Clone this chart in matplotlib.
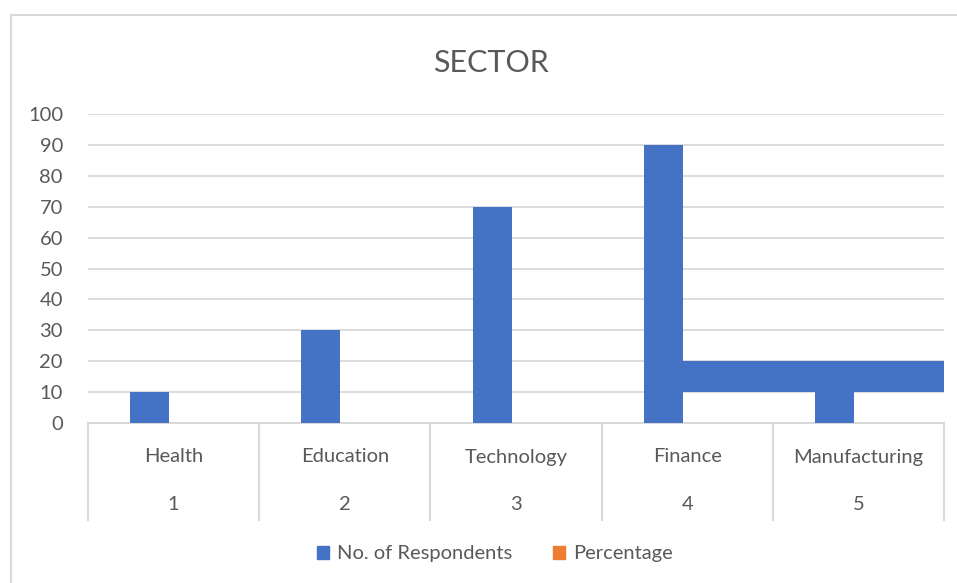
import matplotlib
matplotlib.use("Agg")
import matplotlib.pyplot as plt
from matplotlib.patches import Patch
from matplotlib.transforms import blended_transform_factory
import numpy as np

# ---- data ----
categories = ["Health", "Education", "Technology", "Finance", "Manufacturing"]
codes = ["1", "2", "3", "4", "5"]
respondents = [10, 30, 70, 90, 10]
percentage = [0, 0, 0, 0, 0]  # no visible bars in the picture
# stray band of the respondents series seen in the picture (from Finance onward)
band_start_cat = "Finance"
band_low, band_high = 10, 20
yticks = [0, 10, 20, 30, 40, 50, 60, 70, 80, 90, 100]
title = "SECTOR"
series_names = ["No. of Respondents", "Percentage"]

BLUE = "#4472C4"
ORANGE = "#ED7D31"
GRID = "#D9D9D9"
TXT = "#595959"
FONT = "Lato"
FS = 14.5

W, H = 957, 583
fig = plt.figure(figsize=(W / 100, H / 100), dpi=100)
plt.rcParams['font.family'] = [FONT, 'DejaVu Sans']

# chart-area border
fig.add_artist(plt.Line2D([11 / W, 11 / W], [0, 1 - 15 / H], color=GRID, lw=1.5))
fig.add_artist(plt.Line2D([11 / W, 1], [1 - 15 / H, 1 - 15 / H], color=GRID, lw=1.5))

L, R, T, B = 88, 944, 114, 423
ax = fig.add_axes([L / W, 1 - B / H, (R - L) / W, (B - T) / H])

x = np.arange(len(categories))
bw = 0.228
off = 0.14
ax.bar(x - off, respondents, width=bw, color=BLUE, zorder=3, label=series_names[0])
ax.bar(x + off, percentage, width=bw, color=ORANGE, zorder=3, label=series_names[1])

ax.set_xlim(-0.5, len(categories) - 0.5)
ax.set_ylim(0, 100)

# stray band
i0 = categories.index(band_start_cat)
start = x[i0] - off + bw / 2
ax.barh((band_low + band_high) / 2, ax.get_xlim()[1] - start, left=start,
        height=band_high - band_low, color=BLUE, zorder=3)

ax.set_yticks(yticks)
ax.set_yticklabels([str(v) for v in yticks], fontsize=FS, color=TXT)
ax.tick_params(axis='y', length=0, pad=18)
ax.set_xticks([])
ax.grid(axis='y', color=GRID, lw=1.3, zorder=0)
for s in ["top", "right", "left"]:
    ax.spines[s].set_visible(False)
ax.spines["bottom"].set_color(GRID)
ax.spines["bottom"].set_linewidth(1.5)

tr = blended_transform_factory(ax.transData, ax.transAxes)
ph = B - T
for i, (c, k) in enumerate(zip(categories, codes)):
    ax.text(x[i], -(457 - B) / ph, c, transform=tr, ha='center', va='center',
            fontsize=FS, color=TXT)
    ax.text(x[i], -(504 - B) / ph, k, transform=tr, ha='center', va='center',
            fontsize=FS, color=TXT)
for b in np.arange(-0.5, len(categories), 1.0):
    ax.plot([b, b], [0, -(520 - B) / ph], transform=tr, color=GRID, lw=1.5,
            clip_on=False)

fig.text(491 / W, 1 - 63 / H, title, ha='center', va='center', fontsize=22, color=TXT)

handles = [Patch(color=BLUE), Patch(color=ORANGE)]
fig.legend(handles, series_names, loc='center', bbox_to_anchor=(495 / W, 1 - 554 / H),
           ncol=2, frameon=False, fontsize=FS, labelcolor=TXT, handlelength=0.6,
           handleheight=0.6, handletextpad=0.4, columnspacing=2.0)

fig.savefig("out.png", dpi=100)
